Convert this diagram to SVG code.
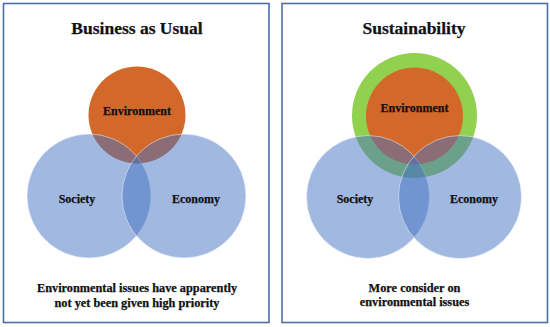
<svg xmlns="http://www.w3.org/2000/svg" width="550" height="327" viewBox="0 0 550 327">
<style>
.panel{fill:#fff;stroke:#4e6ea6;stroke-width:1.6}
.t{font-family:"Liberation Serif","Times New Roman","DejaVu Serif",serif;font-weight:bold;fill:#111;stroke:#111;stroke-width:0.25;text-anchor:middle}
.title{font-size:17.5px}
.lbl{font-size:12px}
.note{font-size:12.3px}
.env{fill:#d2692a}
.ring{fill:#92d050}
.blue{fill:#4472c4;fill-opacity:0.5;stroke:#fff;stroke-opacity:0.6;stroke-width:0.8}
</style>
<rect width="550" height="327" fill="#fff"/>
<g id="panel-left">
<rect class="panel" x="3.5" y="3.5" width="265.5" height="319"/>
<text class="t title" x="137" y="34">Business as Usual</text>
</g>
<g id="panel-right">
<rect class="panel" x="282" y="3.5" width="265.5" height="319"/>
<text class="t title" x="414" y="34">Sustainability</text>
</g>
<g id="left-environment"><circle class="env" cx="137" cy="115" r="48.5"/></g>
<g id="left-society"><circle class="blue" cx="89" cy="196" r="62"/></g>
<g id="left-economy"><circle class="blue" cx="184" cy="196" r="62"/></g>
<g id="left-labels">
<text class="t lbl" x="137" y="115">Environment</text>
<text class="t lbl" x="77" y="203">Society</text>
<text class="t lbl" x="196" y="203">Economy</text>
<text class="t note" x="137" y="292">Environmental issues have apparently</text>
<text class="t note" x="137" y="307">not yet been given high priority</text>
</g>
<g id="right-ring"><circle class="ring" cx="414.5" cy="115.5" r="62.5"/></g>
<g id="right-environment"><circle class="env" cx="414.5" cy="116" r="48.5"/></g>
<g id="right-society"><circle class="blue" cx="368" cy="197" r="61.5"/></g>
<g id="right-economy"><circle class="blue" cx="460" cy="197" r="61.5"/></g>
<g id="right-labels">
<text class="t lbl" x="414.5" y="112">Environment</text>
<text class="t lbl" x="355" y="203">Society</text>
<text class="t lbl" x="474" y="203">Economy</text>
<text class="t note" x="414.5" y="292">More consider on</text>
<text class="t note" x="414.5" y="306">environmental issues</text>
</g>
<g id="connectors"/>
</svg>
